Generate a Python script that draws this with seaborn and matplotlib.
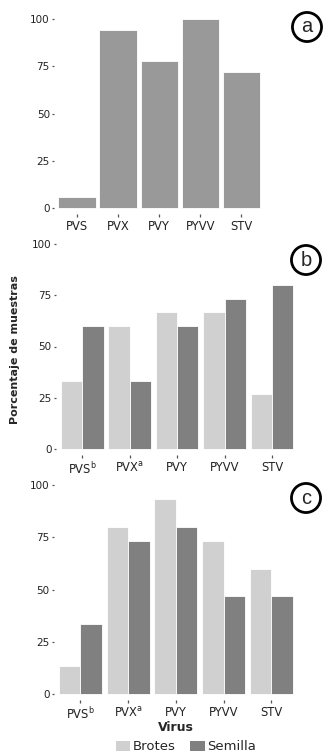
import numpy as np
import pandas as pd
import matplotlib
matplotlib.use("Agg")
import matplotlib.pyplot as plt
import seaborn as sns
from matplotlib.patches import Patch

# data
virus_a = ["PVS", "PVX", "PVY", "PYVV", "STV"]
pct_a = [5.6, 94.4, 77.8, 100.0, 72.2]

virus_bc = ["PVS$^{\\mathrm{b}}$", "PVX$^{\\mathrm{a}}$", "PVY", "PYVV", "STV"]
brotes_b = [33.3, 60.0, 66.7, 66.7, 26.7]
semilla_b = [60.0, 33.3, 60.0, 73.3, 80.0]
brotes_c = [13.3, 80.0, 93.3, 73.3, 60.0]
semilla_c = [33.3, 73.3, 80.0, 46.7, 46.7]

groups = ["Brotes", "Semilla"]
colors = {"Brotes": "#d0d0d0", "Semilla": "#808080"}

sns.set_theme(style="white")
plt.rcParams["font.family"] = ["DejaVu Sans"]

W, H = 326, 756
fig = plt.figure(figsize=(W / 100, H / 100), dpi=100)


def axes_box(left, right, y100, y0, ylo=-3, yhi=101):
    # place axes so that data 0 and 100 land on given pixel rows
    ppu = (y0 - y100) / 100.0
    bottom = y0 - ylo * ppu
    top = y100 - (yhi - 100) * ppu
    return fig.add_axes([left / W, 1 - bottom / H, (right - left) / W, (bottom - top) / H])


def style(ax):
    ax.set_ylim(-3, 101)
    ax.set_xlim(-0.55, 4.55)
    ax.set_yticks([0, 25, 50, 75, 100])
    ax.set_yticklabels(["0", "25", "50", "75", "100"])
    for s in ax.spines.values():
        s.set_visible(False)
    ax.tick_params(axis="both", length=1.8, width=0.9, color="#555555",
                   pad=1.5, left=True, bottom=True, labelcolor="#222222")
    ax.tick_params(axis="y", labelsize=7.5)
    ax.tick_params(axis="x", labelsize=8.3, pad=2.5)
    ax.set_xlabel("")
    ax.set_ylabel("")


def circle_label(x, y, s):
    fig.text(x / W, 1 - y / H, s, ha="center", va="center", fontsize=14.5,
             family="Liberation Sans",
             bbox=dict(boxstyle="circle,pad=0.25", fc="white", ec="black", lw=2))


# panel a
ax_a = axes_box(54.4, 264.0, 19, 208)
df_a = pd.DataFrame({"virus": virus_a, "pct": pct_a})
sns.barplot(data=df_a, x="virus", y="pct", color="#999999", width=0.91,
            edgecolor="white", linewidth=0.6, ax=ax_a)
style(ax_a)

# panel b
ax_b = axes_box(56.3, 298.0, 244, 449)
df_b = pd.DataFrame({"virus": virus_bc * 2,
                     "grupo": ["Brotes"] * 5 + ["Semilla"] * 5,
                     "pct": brotes_b + semilla_b})
sns.barplot(data=df_b, x="virus", y="pct", hue="grupo", hue_order=groups,
            palette=colors, width=0.9, gap=0, edgecolor="white", linewidth=0.6,
            ax=ax_b, legend=False)
style(ax_b)

# panel c
ax_c = axes_box(54.2, 297.5, 485, 694)
df_c = pd.DataFrame({"virus": virus_bc * 2,
                     "grupo": ["Brotes"] * 5 + ["Semilla"] * 5,
                     "pct": brotes_c + semilla_c})
sns.barplot(data=df_c, x="virus", y="pct", hue="grupo", hue_order=groups,
            palette=colors, width=0.9, gap=0, edgecolor="white", linewidth=0.6,
            ax=ax_c, legend=False)
style(ax_c)
ax_c.set_xlabel("Virus", fontsize=9, fontweight="bold", labelpad=-1)

fig.text(15 / W, 1 - 350 / H, "Porcentaje de muestras", rotation=90,
         ha="center", va="center", fontsize=8, fontweight="bold")

handles = [Patch(facecolor=colors[g], edgecolor="none", label=g) for g in groups]
fig.legend(handles=handles, loc="center", bbox_to_anchor=(186 / W, 1 - 747 / H),
           ncol=2, frameon=False, fontsize=9.5, handlelength=1.1, handleheight=0.8,
           handletextpad=0.2, columnspacing=1.1, borderpad=0)

circle_label(307, 27, "a")
circle_label(306, 260, "b")
circle_label(306, 498, "c")

fig.savefig("out.png", dpi=100)
